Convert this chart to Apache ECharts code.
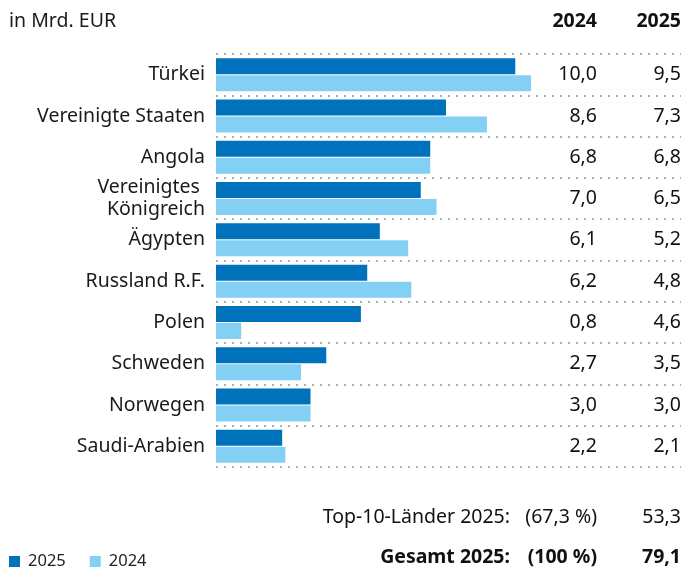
<!DOCTYPE html>
<html>
<head>
<meta charset="utf-8">
<script src="https://cdn.jsdelivr.net/npm/echarts@6/dist/echarts.min.js"></script>
<style>
  html, body { margin: 0; padding: 0; background: #fff; }
  #chart { width: 697px; height: 567px; }
</style>
</head>
<body>
<div id="chart"></div>
<script>
var countries = ['Türkei', 'Vereinigte Staaten', 'Angola', 'Vereinigtes \nKönigreich', 'Ägypten',
    'Russland R.F.', 'Polen', 'Schweden', 'Norwegen', 'Saudi-Arabien'];
var values2024 = [10.0, 8.6, 6.8, 7.0, 6.1, 6.2, 0.8, 2.7, 3.0, 2.2];
var values2025 = [9.5, 7.3, 6.8, 6.5, 5.2, 4.8, 4.6, 3.5, 3.0, 2.1];
var columnHeads = ['2024', '2025'];
var summaryTop10 = ['Top-10-Länder 2025:', '(67,3 %)', '53,3'];
var summaryTotal = ['Gesamt 2025:', '(100 %)', '79,1'];

var FONT = '"Noto Sans", sans-serif';
var FS = 19.5;
var DARK = '#0072bc';
var LIGHT = '#84d0f5';

function fmt(v) {
    return v.toFixed(1).replace('.', ',');
}

function txt(x, y, s, bold) {
    return {
        type: 'text', x: x, y: y,
        style: {
            text: s, align: 'right', verticalAlign: 'middle', fontSize: FS,
            fontWeight: bold ? 'bold' : 'normal', fill: '#111', fontFamily: FONT
        }
    };
}

window.onload = function() {
    var chart = echarts.init(document.getElementById('chart'));
    chart.setOption({
        animation: false,
        textStyle: { fontFamily: FONT },
        grid: { left: 216, right: 16, top: 54, bottom: 100 },
        legend: {
            data: ['2025', '2024'],
            left: 4, top: 548,
            icon: 'rect', itemWidth: 11, itemHeight: 11, itemGap: 24,
            textStyle: { fontFamily: FONT, fontSize: 16.5, color: '#222', padding: [0, 0, 0, 3] }
        },
        xAxis: {
            type: 'value', min: 0, max: 14.76, show: false
        },
        yAxis: [{
            type: 'category',
            data: countries,
            inverse: true,
            axisLine: { show: false },
            axisTick: { show: false },
            splitLine: {
                show: true,
                lineStyle: { color: '#a9b2ba', width: 2, type: [2, 6] }
            },
            axisLabel: {
                margin: 11, fontSize: FS, lineHeight: 22, color: '#1a1a1a', fontFamily: FONT
            }
        }, {
            type: 'category',
            data: countries,
            inverse: true,
            position: 'right',
            axisLine: { show: false },
            axisTick: { show: false },
            axisLabel: {
                inside: true, margin: 0,
                formatter: function(v, i) {
                    return '{a|' + fmt(values2024[i]) + '}{b|' + fmt(values2025[i]) + '}';
                },
                rich: {
                    a: { width: 60, align: 'right', fontSize: FS, color: '#111', fontFamily: FONT },
                    b: { width: 84, align: 'right', fontSize: FS, color: '#111', fontFamily: FONT }
                }
            }
        }],
        graphic: [
            { type: 'text', x: 9, y: 21, style: { text: 'in Mrd. EUR', verticalAlign: 'middle', fontSize: FS, fill: '#1a1a1a', fontFamily: FONT } },
            txt(597, 21, columnHeads[0], true),
            txt(681, 21, columnHeads[1], true),
            txt(510, 517, summaryTop10[0], false),
            txt(597, 517, summaryTop10[1], false),
            txt(681, 517, summaryTop10[2], false),
            txt(510, 557, summaryTotal[0], true),
            txt(597, 557, summaryTotal[1], true),
            txt(681, 557, summaryTotal[2], true)
        ],
        series: [{
            name: '2025',
            type: 'bar',
            data: values2025,
            barWidth: 16,
            barGap: '6%',
            itemStyle: { color: DARK }
        }, {
            name: '2024',
            type: 'bar',
            data: values2024,
            barWidth: 16,
            barGap: '6%',
            itemStyle: { color: LIGHT }
        }]
    });
};
</script>
</body>
</html>
